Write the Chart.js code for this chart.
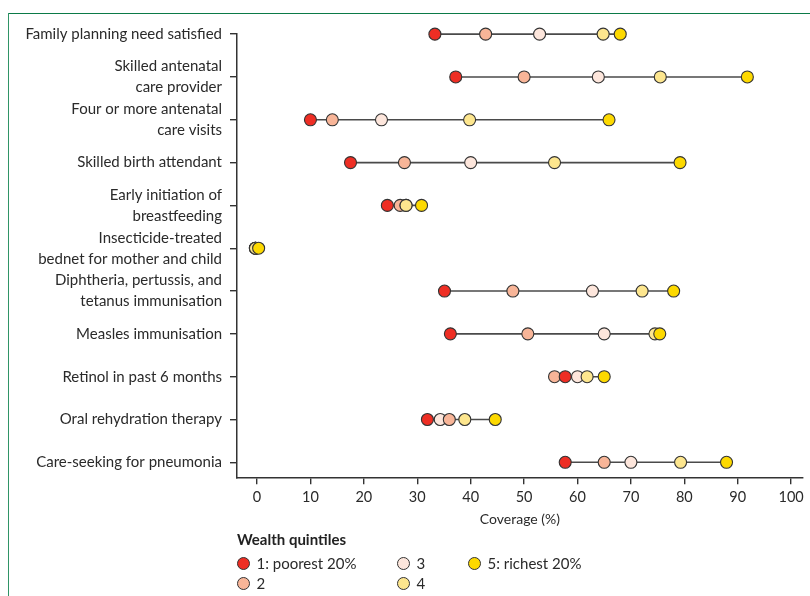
<!DOCTYPE html>
<html><head><meta charset="utf-8">
<script src="https://cdn.jsdelivr.net/npm/chart.js@4.4.1/dist/chart.umd.min.js"></script>
<style>
html,body{margin:0;padding:0;background:#fff;}
#wrap{position:relative;width:810px;height:596px;overflow:hidden;font-family:Lato,"Open Sans",sans-serif;color:#2a2a2a;}
#c{position:absolute;left:0;top:0;}
#ftop{position:absolute;left:8px;top:13px;width:802px;height:0;border-top:1.5px solid #0b7a48;}
#fleft{position:absolute;left:8px;top:13px;width:0;height:583px;border-left:1.5px solid #2f9466;}
#ltitle{position:absolute;left:237px;top:529px;font-weight:bold;font-size:15px;color:#222;line-height:20px;white-space:nowrap;}
.li{position:absolute;height:20px;line-height:20px;font-size:15px;color:#2a2a2a;white-space:nowrap;}
.li .dot{position:absolute;left:0;top:3.5px;width:11px;height:11px;border-radius:50%;border:1.3px solid #333;}
.li .tx{position:absolute;left:20px;top:0;}
</style>
</head>
<body>
<div id="wrap">
  <canvas id="c" width="810" height="596"></canvas>
  <div id="ftop"></div><div id="fleft"></div>
  <div id="ltitle">Wealth quintiles</div>
  <div id="legend"></div>
</div>
<script>
const categories = [
  ["Family planning need satisfied"],
  ["Skilled antenatal", "care provider"],
  ["Four or more antenatal", "care visits"],
  ["Skilled birth attendant"],
  ["Early initiation of", "breastfeeding"],
  ["Insecticide-treated", "bednet for mother and child"],
  ["Diphtheria, pertussis, and", "tetanus immunisation"],
  ["Measles immunisation"],
  ["Retinol in past 6 months"],
  ["Oral rehydration therapy"],
  ["Care-seeking for pneumonia"]
];
const q1 = [33.3, 37.2, 10.0, 17.5, 24.4, -0.3, 35.1, 36.2, 57.7, 31.9, 57.7];
const q2 = [42.8, 50.0, 14.1, 27.6, 26.8, -0.3, 47.9, 50.7, 55.7, 36.0, 65.0];
const q3 = [52.9, 63.9, 23.3, 40.0, 27.9, -0.3, 62.8, 65.0, 60.0, 34.3, 70.0];
const q4 = [64.8, 75.5, 39.8, 55.7, 27.9, -0.3, 72.1, 74.5, 61.8, 38.9, 79.3];
const q5 = [68.0, 91.8, 65.9, 79.2, 30.8, 0.3, 78.0, 75.4, 65.0, 44.6, 87.9];
const xTicks = [0, 10, 20, 30, 40, 50, 60, 70, 80, 90, 100];
const quintileLabels = ["1: poorest 20%", "2", "3", "4", "5: richest 20%"];
const quintileColors = ["#ee2e24", "#f8b598", "#fde6dc", "#fde68e", "#fdd900"];

const series = [q1, q2, q3, q4, q5];
const datasets = categories.map((cat, i) => {
  const pts = series.map((s, k) => ({x: s[i], y: i, k: k}));
  pts.sort((a, b) => a.x - b.x);
  return {
    label: cat.join(' '),
    data: pts,
    showLine: true,
    borderColor: '#4a4a4a',
    borderWidth: 1.6,
    pointRadius: 6,
    pointHoverRadius: 6,
    pointBorderWidth: 1.1,
    pointBorderColor: '#333',
    pointBackgroundColor: pts.map(p => quintileColors[p.k]),
    clip: false
  };
});

const FONT = 'Lato';
new Chart(document.getElementById('c'), {
  type: 'scatter',
  data: {datasets},
  options: {
    responsive: false,
    animation: false,
    events: [],
    layout: {padding: {top: 33.3, left: 0, right: 0, bottom: 67.7}},
    plugins: {legend: {display: false}, tooltip: {enabled: false}},
    scales: {
      x: {
        type: 'linear', position: 'bottom', min: -3.75, max: 102.2,
        afterFit(s) { s.height = 51; },
        afterBuildTicks(s) { s.ticks = xTicks.map(v => ({value: v})); },
        ticks: {autoSkip: false, maxRotation: 0, color: '#2a2a2a', padding: 4,
                font: {family: FONT, size: 14.5}, callback: v => String(v)},
        grid: {drawOnChartArea: false, drawTicks: true, tickLength: 7, color: '#333', lineWidth: 1.4},
        border: {display: true, color: '#333', width: 1.5},
        title: {display: true, text: 'Coverage (%)', color: '#2a2a2a', padding: 0,
                font: {family: FONT, size: 14}}
      },
      y: {
        type: 'linear', reverse: true, min: -0.02, max: 10.35,
        afterFit(s) { s.width = 237; },
        afterBuildTicks(s) { s.ticks = categories.map((c, i) => ({value: i})); },
        ticks: {autoSkip: false, color: '#2a2a2a', padding: 8,
                font: {family: FONT, size: 15, lineHeight: 1.4},
                callback: v => categories[v]},
        grid: {drawOnChartArea: false, drawTicks: true, tickLength: 7, color: '#333', lineWidth: 1.4},
        border: {display: true, color: '#333', width: 1.5}
      }
    }
  }
});

// HTML legend built from the quintile labels
const legendPos = [[236.5, 553], [236.5, 573], [396.5, 553], [396.5, 573], [467.5, 553]];
const lg = document.getElementById('legend');
quintileLabels.forEach((lab, k) => {
  const d = document.createElement('div');
  d.className = 'li';
  d.style.left = legendPos[k][0] + 'px';
  d.style.top = legendPos[k][1] + 'px';
  d.innerHTML = '<span class="dot" style="background:' + quintileColors[k] + '"></span><span class="tx"></span>';
  d.querySelector('.tx').textContent = lab;
  lg.appendChild(d);
});
</script>
</body></html>
